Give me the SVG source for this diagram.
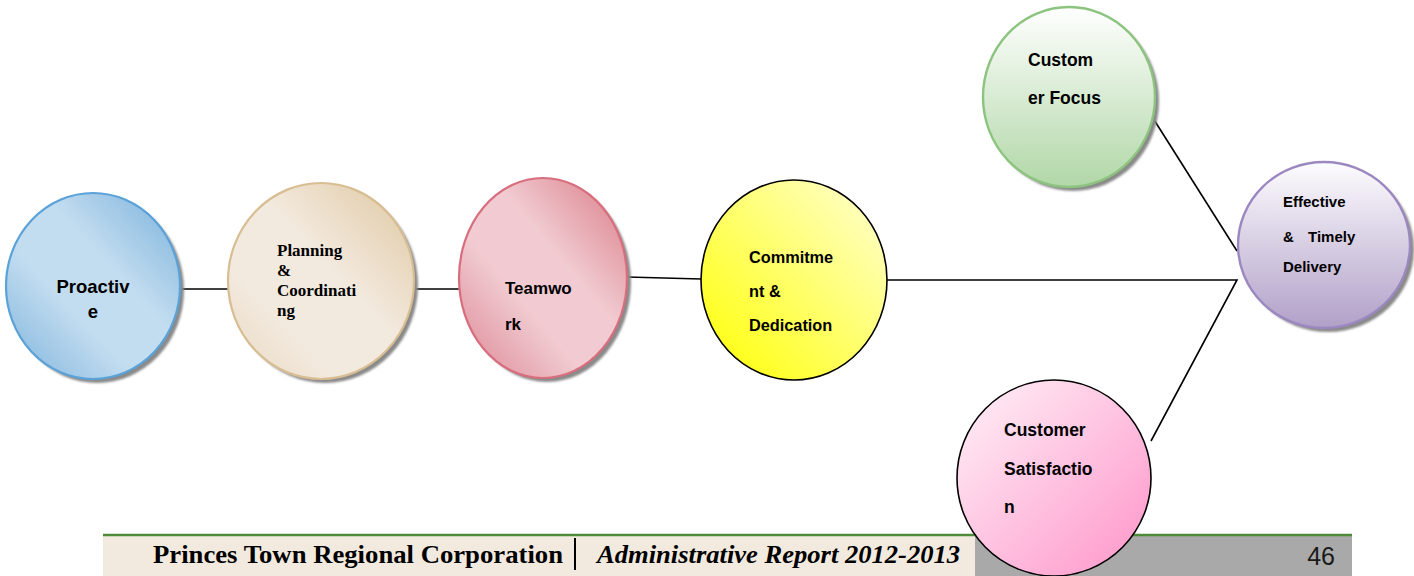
<svg xmlns="http://www.w3.org/2000/svg" width="1414" height="576" viewBox="0 0 1414 576">
  <style>
    .lbl { font-family: "Liberation Sans", Arial, sans-serif; font-weight: bold; fill: #000; }
    .ser { font-family: "Liberation Serif", "Times New Roman", serif; font-weight: bold; fill: #000; }
    .conn { stroke: #000; stroke-width: 1.6; fill: none; }
    .shadow { fill: #8a8a8a; filter: url(#soft); }
  </style>
  <defs>
    <filter id="soft" x="-10%" y="-10%" width="120%" height="120%">
      <feGaussianBlur stdDeviation="1.2"/>
    </filter>
    <linearGradient id="gBlue" x1="1" y1="0" x2="0" y2="1">
      <stop offset="0" stop-color="#78b0da"/>
      <stop offset="0.4" stop-color="#c3ddf0"/>
      <stop offset="0.62" stop-color="#c3ddf0"/>
      <stop offset="1" stop-color="#7db3dc"/>
    </linearGradient>
    <linearGradient id="gBeige" x1="1" y1="0" x2="0" y2="1">
      <stop offset="0" stop-color="#dfc7a0"/>
      <stop offset="0.45" stop-color="#f3eadf"/>
      <stop offset="0.7" stop-color="#f3eadf"/>
      <stop offset="1" stop-color="#e8d8c0"/>
    </linearGradient>
    <linearGradient id="gRose" x1="1" y1="0" x2="0" y2="1">
      <stop offset="0" stop-color="#d97985"/>
      <stop offset="0.4" stop-color="#f1cbd1"/>
      <stop offset="0.62" stop-color="#f1cbd1"/>
      <stop offset="1" stop-color="#dc8593"/>
    </linearGradient>
    <linearGradient id="gYellow" x1="0" y1="1" x2="1" y2="0">
      <stop offset="0" stop-color="#ffff00"/>
      <stop offset="1" stop-color="#ffffd6"/>
    </linearGradient>
    <linearGradient id="gGreen" x1="0" y1="0" x2="0" y2="1">
      <stop offset="0" stop-color="#ffffff"/>
      <stop offset="1" stop-color="#b1d7a7"/>
    </linearGradient>
    <linearGradient id="gPurple" x1="0" y1="0" x2="0" y2="1">
      <stop offset="0" stop-color="#fdfcfe"/>
      <stop offset="1" stop-color="#b1a0c8"/>
    </linearGradient>
    <linearGradient id="gPink" x1="0" y1="0" x2="1" y2="1">
      <stop offset="0" stop-color="#fff2f8"/>
      <stop offset="1" stop-color="#ff94c9"/>
    </linearGradient>
  </defs>

  <!-- page footer -->
  <g id="footer">
    <rect x="103" y="536" width="872" height="40" fill="#f2eadf"/>
    <rect x="975" y="536" width="377" height="40" fill="#a9a9a9"/>
    <line x1="103" y1="535" x2="1352" y2="535" stroke="#4f8a3b" stroke-width="2.4"/>
    <text class="ser" x="153" y="563" font-size="26" textLength="410" lengthAdjust="spacingAndGlyphs">Princes Town Regional Corporation</text>
    <line x1="575" y1="538" x2="575" y2="570" stroke="#000" stroke-width="2"/>
    <text class="ser" x="597" y="563" font-size="26" font-style="italic" textLength="363" lengthAdjust="spacingAndGlyphs">Administrative Report 2012-2013</text>
    <text x="1335" y="565" font-family="'Liberation Sans', Arial, sans-serif" font-size="25" text-anchor="end" fill="#1a1a1a">46</text>
  </g>

  <!-- connectors -->
  <g id="connectors">
    <line class="conn" x1="181" y1="289" x2="230" y2="289"/>
    <line class="conn" x1="414" y1="289" x2="460" y2="289"/>
    <line class="conn" x1="627" y1="277" x2="701" y2="279"/>
    <polyline class="conn" points="887,280 1237,280 1151,441"/>
    <line class="conn" x1="1151" y1="115" x2="1237" y2="251"/>
  </g>

  <g id="proactive">
    <ellipse class="shadow" cx="97" cy="290" rx="87" ry="93"/>
    <ellipse cx="93" cy="286" rx="87" ry="93" fill="url(#gBlue)" stroke="#5aa2d8" stroke-width="2.2"/>
    <text class="lbl" font-size="18.5" text-anchor="middle" x="93" y="293">Proactiv</text>
    <text class="lbl" font-size="18.5" text-anchor="middle" x="93" y="318">e</text>
  </g>

  <g id="planning">
    <ellipse class="shadow" cx="325" cy="285" rx="93" ry="98"/>
    <ellipse cx="321" cy="281" rx="93" ry="98" fill="url(#gBeige)" stroke="#d8bd93" stroke-width="2.2"/>
    <text class="ser" font-size="17">
      <tspan x="277" y="256">Planning</tspan>
      <tspan x="277" y="276">&amp;</tspan>
      <tspan x="277" y="296">Coordinati</tspan>
      <tspan x="277" y="316">ng</tspan>
    </text>
  </g>

  <g id="teamwork">
    <ellipse class="shadow" cx="547" cy="282" rx="84" ry="100"/>
    <ellipse cx="543" cy="278" rx="84" ry="100" fill="url(#gRose)" stroke="#d86e7d" stroke-width="2.2"/>
    <text class="lbl" font-size="17">
      <tspan x="505" y="294">Teamwo</tspan>
      <tspan x="505" y="330">rk</tspan>
    </text>
  </g>

  <g id="commitment">
    <ellipse cx="794" cy="280" rx="93" ry="100" fill="url(#gYellow)" stroke="#000" stroke-width="1.6"/>
    <text class="lbl" font-size="16.3">
      <tspan x="749" y="263">Commitme</tspan>
      <tspan x="749" y="297">nt &amp;</tspan>
      <tspan x="749" y="331">Dedication</tspan>
    </text>
  </g>

  <g id="customer-focus">
    <ellipse class="shadow" cx="1073" cy="101" rx="86" ry="90"/>
    <ellipse cx="1069" cy="97" rx="86" ry="90" fill="url(#gGreen)" stroke="#8cc47f" stroke-width="2.4"/>
    <text class="lbl" font-size="17.5">
      <tspan x="1028" y="66">Custom</tspan>
      <tspan x="1028" y="104">er Focus</tspan>
    </text>
  </g>

  <g id="effective-delivery">
    <ellipse class="shadow" cx="1328" cy="249" rx="86" ry="83"/>
    <ellipse cx="1324" cy="245" rx="86" ry="83" fill="url(#gPurple)" stroke="#9c88c0" stroke-width="2.4"/>
    <text class="lbl" font-size="15">
      <tspan x="1283" y="207">Effective</tspan>
      <tspan x="1283" y="242">&amp;</tspan><tspan x="1308" y="242">Timely</tspan>
      <tspan x="1283" y="272">Delivery</tspan>
    </text>
  </g>

  <g id="customer-satisfaction">
    <ellipse cx="1054" cy="478" rx="97" ry="98" fill="url(#gPink)" stroke="#000" stroke-width="1.6"/>
    <text class="lbl" font-size="17.5">
      <tspan x="1004" y="436">Customer</tspan>
      <tspan x="1004" y="475">Satisfactio</tspan>
      <tspan x="1004" y="513">n</tspan>
    </text>
  </g>
</svg>
